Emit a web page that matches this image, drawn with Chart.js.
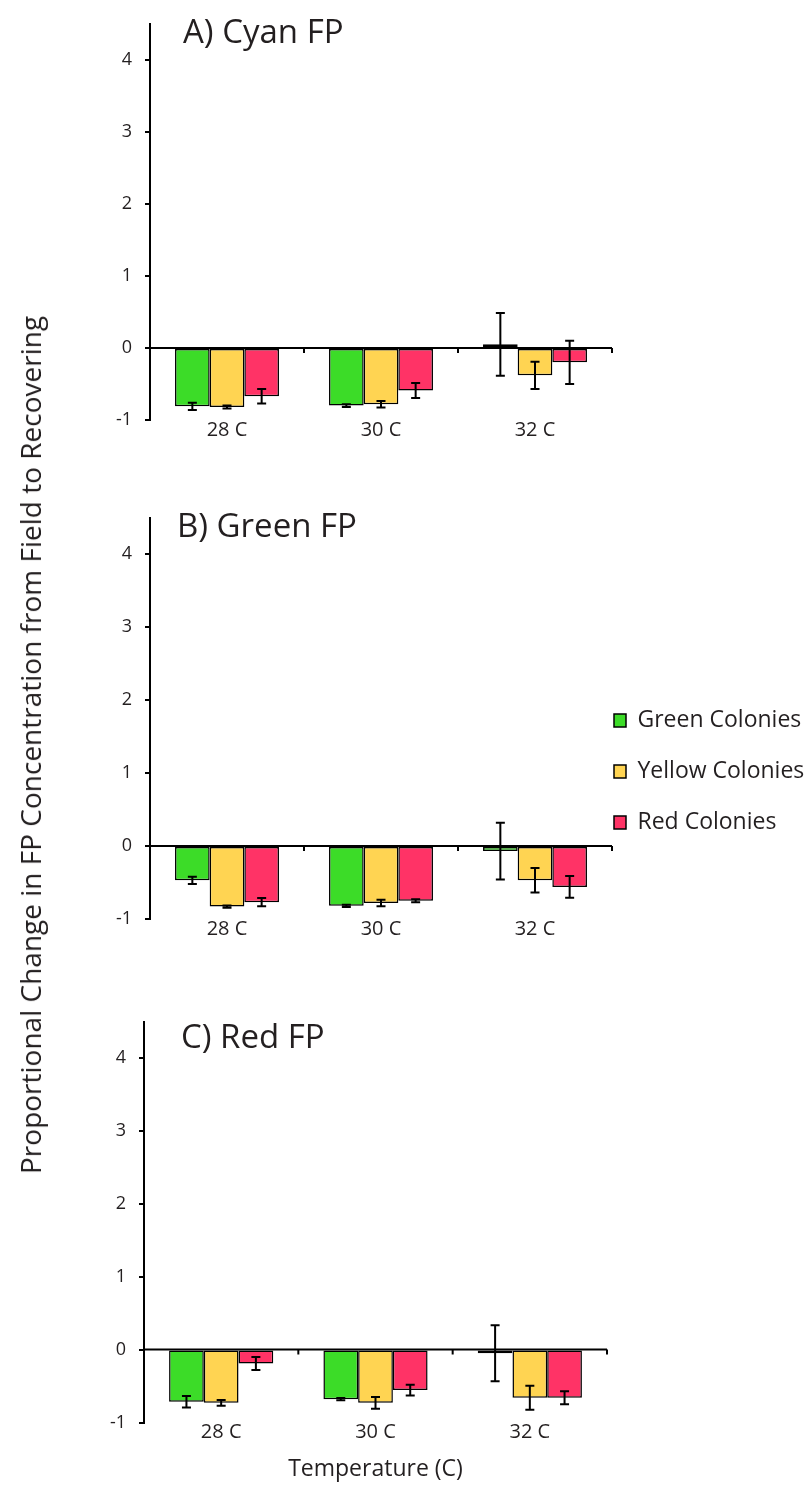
<!DOCTYPE html>
<html><head><meta charset="utf-8">
<script src="https://cdn.jsdelivr.net/npm/chart.js@4.4.1/dist/chart.umd.min.js"></script>
<style>
html,body{margin:0;padding:0;background:#fff;}
#wrap{position:relative;width:811px;height:1486px;overflow:hidden;background:#fff;}
canvas{position:absolute;}
#ytitle{position:absolute;left:30px;top:745px;transform:translate(-50%,-50%) rotate(-90deg);white-space:nowrap;font-family:'Open Sans';font-size:28px;color:#231f20;}
</style></head><body>
<div id="wrap">
<canvas id="cA" width="811" height="470" style="left:0;top:0"></canvas>
<canvas id="cB" width="811" height="470" style="left:0;top:480px"></canvas>
<canvas id="cC" width="811" height="496" style="left:0;top:990px"></canvas>
<canvas id="cL" width="225" height="360" style="left:586px;top:681px"></canvas>
<div id="ytitle">Proportional Change in FP Concentration from Field to Recovering</div>
</div>
<script>
// ---- data ----
const categories = ['28 C', '30 C', '32 C'];
const seriesNames = ['Green Colonies', 'Yellow Colonies', 'Red Colonies'];
const yTicks = [-1, 0, 1, 2, 3, 4];

const cyanGreen = [-0.81, -0.80, 0.05];
const cyanYellow = [-0.82, -0.78, -0.38];
const cyanRed = [-0.67, -0.59, -0.20];
const cyanGreenErr = [0.05, 0.02, 0.435];
const cyanYellowErr = [0.02, 0.045, 0.19];
const cyanRedErr = [0.10, 0.105, 0.30];

const greenGreen = [-0.47, -0.82, -0.07];
const greenYellow = [-0.83, -0.78, -0.47];
const greenRed = [-0.77, -0.75, -0.56];
const greenGreenErr = [0.05, 0.015, 0.39];
const greenYellowErr = [0.015, 0.045, 0.167];
const greenRedErr = [0.057, 0.02, 0.15];

const redGreen = [-0.715, -0.68, -0.05];
const redYellow = [-0.73, -0.73, -0.66];
const redRed = [-0.19, -0.555, -0.66];
const redGreenErr = [0.08, 0.015, 0.385];
const redYellowErr = [0.04, 0.08, 0.164];
const redRedErr = [0.09, 0.073, 0.09];

// ---- styles ----
const COLORS = ['#3cdc28', '#ffd452', '#ff3366'];
const TEXT = '#231f20';
const FONT = 'Open Sans';

const errorBarPlugin = {
  id: 'errbars',
  afterDatasetsDraw(chart) {
    const ctx = chart.ctx, y = chart.scales.y;
    ctx.save();
    ctx.strokeStyle = '#000';
    ctx.lineWidth = 2;
    chart.data.datasets.forEach((ds, di) => {
      if (!ds.errorBars) return;
      const meta = chart.getDatasetMeta(di);
      meta.data.forEach((bar, i) => {
        const v = ds.data[i], e = ds.errorBars[i];
        const yt = y.getPixelForValue(v + e), yb = y.getPixelForValue(v - e);
        const x = bar.x, c = 4.5;
        ctx.beginPath();
        ctx.moveTo(x, yt); ctx.lineTo(x, yb);
        ctx.moveTo(x - c, yt); ctx.lineTo(x + c, yt);
        ctx.moveTo(x - c, yb); ctx.lineTo(x + c, yb);
        ctx.stroke();
      });
    });
    ctx.restore();
  }
};

const zeroTicksPlugin = {
  id: 'zeroticks',
  afterDatasetsDraw(chart) {
    const ctx = chart.ctx, x = chart.scales.x, y = chart.scales.y;
    const y0 = y.getPixelForValue(0);
    ctx.save();
    ctx.strokeStyle = '#000';
    ctx.lineWidth = 2;
    ctx.beginPath();
    ctx.moveTo(chart.chartArea.left, y0); ctx.lineTo(chart.chartArea.right, y0);
    for (let i = 1; i <= categories.length; i++) {
      const px = x.getPixelForValue(i - 0.5);
      ctx.moveTo(px, y0); ctx.lineTo(px, y0 + 5);
    }
    ctx.stroke();
    ctx.restore();
  }
};

const panelTitlePlugin = {
  id: 'paneltitle',
  afterDraw(chart, args, opts) {
    const ctx = chart.ctx, a = chart.chartArea;
    ctx.save();
    ctx.font = '33px "' + FONT + '"';
    ctx.fillStyle = TEXT;
    ctx.textBaseline = 'alphabetic';
    ctx.textAlign = 'left';
    ctx.fillText(opts.text, a.left + opts.dx, a.top + opts.dy);
    ctx.restore();
  }
};

function makePanel(id, vals, errs, cfg) {
  const datasets = vals.map((v, i) => ({
    label: seriesNames[i],
    data: v,
    errorBars: errs[i],
    backgroundColor: COLORS[i],
    borderColor: '#000',
    borderWidth: 1.5,
    borderSkipped: false,
    barPercentage: 1.0,
    categoryPercentage: 0.675
  }));
  const xOpts = {
    grid: { display: false, drawTicks: false },
    border: { display: false },
    ticks: { font: { family: FONT, size: 20 }, color: TEXT, padding: -2, maxRotation: 0, autoSkip: false },
    afterFit: s => { s.height = cfg.xh; }
  };
  if (cfg.xTitle) {
    xOpts.title = { display: true, text: cfg.xTitle, font: { family: FONT, size: 23 }, color: TEXT, padding: { top: 0, bottom: 3 } };
  }
  return new Chart(document.getElementById(id), {
    type: 'bar',
    data: { labels: categories, datasets },
    plugins: [errorBarPlugin, zeroTicksPlugin, panelTitlePlugin],
    options: {
      responsive: false,
      animation: false,
      layout: { padding: { left: 0, right: 811 - cfg.right, top: cfg.padTop, bottom: 0 } },
      scales: {
        x: xOpts,
        y: {
          min: -1, max: 4.5,
          afterBuildTicks: s => { s.ticks = yTicks.map(v => ({ value: v })); },
          afterFit: s => { s.width = cfg.left; },
          grid: { color: 'rgba(0,0,0,0)', tickColor: '#000', tickLength: 5, tickWidth: 2, lineWidth: 2, drawTicks: true },
          border: { display: true, color: '#000', width: 2 },
          ticks: { font: { family: FONT, size: 18 }, color: TEXT, padding: 13 }
        }
      },
      plugins: {
        legend: { display: false },
        tooltip: { enabled: false },
        paneltitle: { text: cfg.title, dx: cfg.tdx, dy: cfg.tdy }
      }
    }
  });
}

makePanel('cA', [cyanGreen, cyanYellow, cyanRed], [cyanGreenErr, cyanYellowErr, cyanRedErr],
  { left: 150, right: 612, padTop: 18.5, xh: 50, title: 'A) Cyan FP', tdx: 33, tdy: 19 });
makePanel('cB', [greenGreen, greenYellow, greenRed], [greenGreenErr, greenYellowErr, greenRedErr],
  { left: 150, right: 612, padTop: 37.5, xh: 31, title: 'B) Green FP', tdx: 27, tdy: 19 });
makePanel('cC', [redGreen, redYellow, redRed], [redGreenErr, redYellowErr, redRedErr],
  { left: 144, right: 607, padTop: 31.5, xh: 63.5, title: 'C) Red FP', tdx: 37, tdy: 26, xTitle: 'Temperature (C)' });

// legend-only chart
new Chart(document.getElementById('cL'), {
  type: 'bar',
  data: { labels: [], datasets: seriesNames.map((n, i) => ({ label: n, data: [], backgroundColor: COLORS[i], borderColor: '#000', borderWidth: 1.5 })) },
  options: {
    responsive: false,
    animation: false,
    scales: { x: { display: false }, y: { display: false } },
    plugins: {
      tooltip: { enabled: false },
      legend: { position: 'top', align: 'start', labels: { boxWidth: 12, boxHeight: 13, padding: 28, font: { family: FONT, size: 23 }, color: TEXT } }
    }
  }
});
</script>
</body></html>
